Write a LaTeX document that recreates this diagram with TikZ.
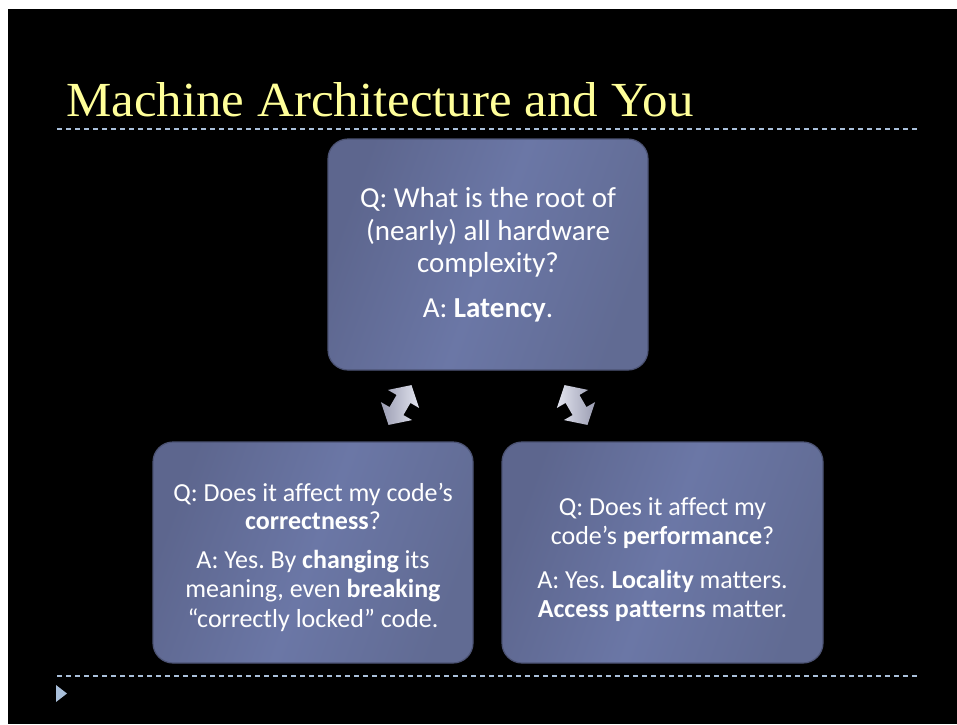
\documentclass[tikz,border=0pt]{standalone}
\usepackage{fontspec}
\usepackage{graphicx}
\frenchspacing
\newfontfamily\bodyfont[Ligatures={NoCommon}]{Carlito}
\newfontfamily\headfont{Liberation Serif}
\definecolor{slidebg}{HTML}{000000}
\definecolor{headyellow}{HTML}{FFFF99}
\definecolor{rulecol}{HTML}{A9BFDA}
\definecolor{boxdark}{HTML}{5D668E}
\definecolor{boxmid}{HTML}{6B77A6}
\definecolor{boxright}{HTML}{616B93}
\definecolor{boxedge}{HTML}{4C5374}
\definecolor{arrowlight}{HTML}{E2E4EF}
\definecolor{arrowdark}{HTML}{9B9DB2}
\tikzset{
  qbox/.style={rounded corners=20pt, draw=boxedge, line width=1.2pt,
    left color=boxdark, right color=boxright, middle color=boxmid,
    shading angle=70, inner sep=0pt},
  bigline/.style={anchor=base, text=white, inner sep=0pt,
    font=\bodyfont\fontsize{29}{32}\selectfont},
  smallline/.style={anchor=base, text=white, inner sep=0pt,
    font=\bodyfont\fontsize{26}{29}\selectfont},
  rulestyle/.style={draw=rulecol, line width=1.6pt, dash pattern=on 5pt off 4pt},
  dblarrow/.style={left color=arrowdark, right color=arrowlight, draw=none}
}
\begin{document}
\begin{tikzpicture}[x=1pt, y=-1pt]
  % page and slide background
  \useasboundingbox (0,0) rectangle (957,724);
  \fill[white] (0,0) rectangle (957,724);
  \fill[slidebg] (8,9) rectangle (957,724);

  % title and rules
  \node[anchor=base west, inner sep=0pt, text=headyellow,
        font=\headfont\fontsize{49}{54}\selectfont] (title) at (66,116)
        {\scalebox{1.04}[1]{Machine Architecture and You}};
  \coordinate (ruleAw) at (57,129);
  \coordinate (ruleAe) at (920,129);
  \coordinate (ruleBw) at (57,676);
  \coordinate (ruleBe) at (920,676);
  \draw[rulestyle] (ruleAw) -- (ruleAe);
  \draw[rulestyle] (ruleBw) -- (ruleBe);

  % bullet marker
  \coordinate (bul) at (56,685);
  \fill[rulecol] (bul) -- ++(0,17) -- ++(11,-8.5) -- cycle;

  % three question boxes
  \node[qbox, minimum width=320pt, minimum height=231pt] (qtop) at (488,254.5) {};
  \node[qbox, minimum width=320pt, minimum height=221pt] (qleft) at (313,552.5) {};
  \node[qbox, minimum width=321pt, minimum height=221pt] (qright) at (662.5,552.5) {};

  % top box text
  \node[bigline] (ta) at (488,207) {Q: What is the root of};
  \node[bigline] (tb) at (488,240) {(nearly) all hardware};
  \node[bigline] (tc) at (488,272) {complexity?};
  \node[bigline] (td) at (488,317) {A: \textbf{Latency}.};

  % left box text
  \node[smallline] (la) at (313,501) {Q: Does it affect my code’s};
  \node[smallline] (lb) at (313,529) {\textbf{correctness}?};
  \node[smallline] (lc) at (313,568) {A: Yes. By \textbf{changing} its};
  \node[smallline] (ld) at (313,597) {meaning, even \textbf{breaking}};
  \node[smallline] (le) at (313,627) {“correctly locked” code.};

  % right box text
  \node[smallline] (ra) at (662.5,515) {Q: Does it affect my};
  \node[smallline] (rb) at (662.5,544) {code’s \textbf{performance}?};
  \node[smallline] (rc) at (662.5,588) {A: Yes. \textbf{Locality} matters.};
  \node[smallline] (rd) at (662.5,617) {\textbf{Access patterns} matter.};

  % double-headed block arrows between the boxes
  \coordinate (arrL) at (400,405);
  \coordinate (arrR) at (576,405);
  \begin{scope}[shift={(arrL)}, rotate=60]
    \fill[dblarrow] (23,0) -- (7,18) -- (7,8) -- (-7,8) -- (-7,18) -- (-23,0)
      -- (-7,-18) -- (-7,-8) -- (7,-8) -- (7,-18) -- cycle;
  \end{scope}
  \begin{scope}[shift={(arrR)}, rotate=-60]
    \fill[dblarrow, left color=arrowlight, right color=arrowdark]
      (23,0) -- (7,18) -- (7,8) -- (-7,8) -- (-7,18) -- (-23,0)
      -- (-7,-18) -- (-7,-8) -- (7,-8) -- (7,-18) -- cycle;
  \end{scope}
\end{tikzpicture}
\end{document}
